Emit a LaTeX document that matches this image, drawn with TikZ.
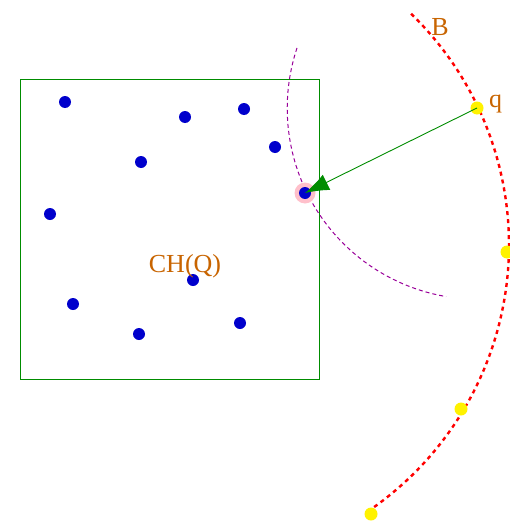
\documentclass[tikz,border=0pt]{standalone}
\usepackage{fontspec}
\setmainfont{Liberation Serif}
\usetikzlibrary{positioning,arrows.meta,calc}
\definecolor{hullgreen}{HTML}{008C00}
\definecolor{ptblue}   {HTML}{0000CC}
\definecolor{ballred}  {HTML}{FF0000}
\definecolor{labelor}  {HTML}{C86400}
\definecolor{arcpurple}{HTML}{990099}
\definecolor{halo}     {HTML}{FFC0CB}
\tikzset{
  % --- nodes
  pt/.style    = {circle, fill=ptblue, inner sep=0pt, minimum size=12pt},
  ypt/.style   = {circle, fill=yellow, inner sep=0pt, minimum size=13pt},
  lbl/.style   = {text=labelor, font=\fontsize{26}{28}\selectfont, inner sep=0pt},
  % --- edges
  hull/.style  = {draw=hullgreen, line width=0.9pt},
  ball/.style  = {draw=ballred, line width=2.4pt, dash pattern=on 4pt off 4pt},
  reach/.style = {draw=arcpurple, line width=1pt, dash pattern=on 4pt off 3pt},
  e/.style     = {draw=hullgreen, line width=0.9pt, -{Latex[length=24pt,width=17pt]}},
}
\begin{document}
\begin{tikzpicture}[x=1pt,y=-1pt]
  \useasboundingbox (0,0) rectangle (510,522);
  % hull Q
  \draw[hull] (20,79) rectangle (319,379);
  \coordinate (o) at (187,245);
  \coordinate (q0) at (477,108);
  % ball B and reach arc
  \draw[ball] ($(o)+(-45.9:322)$) arc[start angle=-45.9, end angle=55.3, radius=322];
  \draw[reach] ($(q0)+(-180,-60)$) arc[start angle=198.4, end angle=99.7, radius=191];
  % halo
  \fill[halo] (305,193) circle (10.5);
  % points of Q
  \node[pt] (p1) at (65,102) {};
  \node[pt] (p2) at (185,117) {};
  \node[pt] (p3) at (244,109) {};
  \node[pt] (p4) at (141,162) {};
  \node[pt] (p5) at (275,147) {};
  \node[pt] (p6) at (50,214) {};
  \node[pt] (p7) at (305,193) {};
  \node[pt] (p8) at (193,280) {};
  \node[pt] (p9) at (73,304) {};
  \node[pt] (p10) at (139,334) {};
  \node[pt] (p11) at (240,323) {};
  % points on B
  \node[ypt] (q) at (q0) {};
  \node[ypt] (b1) at (507,252) {};
  \node[ypt] (b2) at (461,409) {};
  \node[ypt] (b3) at (371,514) {};
  \draw[e] (q.center) -- (p7.center);
  % labels
  \node[lbl] (lB) at (440,27) {B};
  \node[lbl, anchor=west] (lq) at (489,104) {q};
  \node[lbl] (lCH) at (185,266) {CH(Q)};
\end{tikzpicture}
\end{document}
